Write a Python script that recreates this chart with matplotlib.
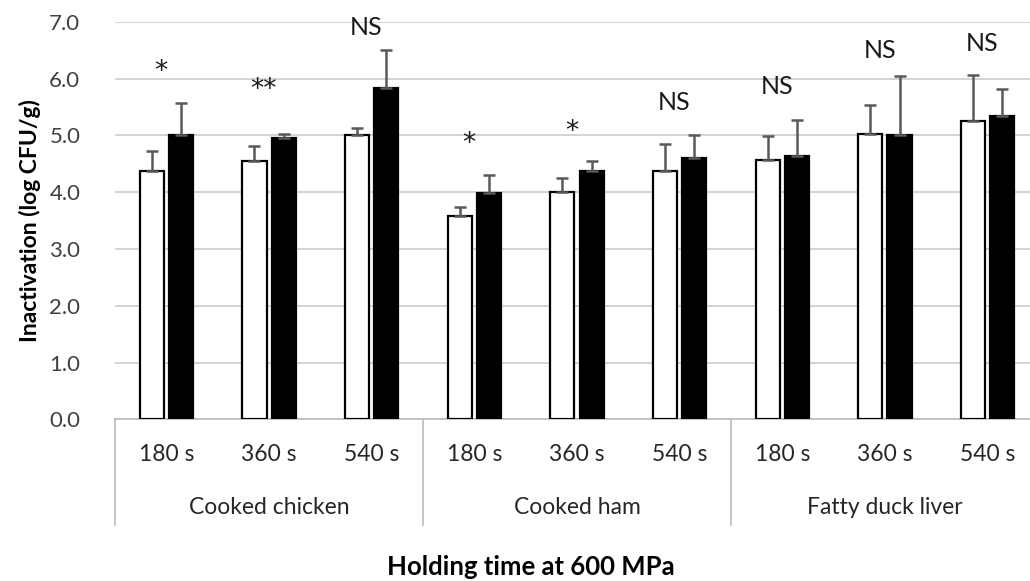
import matplotlib
matplotlib.use("Agg")
import matplotlib.pyplot as plt
import matplotlib.transforms as mtransforms
import numpy as np

plt.rcParams['font.family'] = ['Lato', 'DejaVu Sans']

# data
times = ['180 s', '360 s', '540 s'] * 3
products = ['Cooked chicken', 'Cooked ham', 'Fatty duck liver']
white_vals = [4.38, 4.55, 5.00, 3.58, 4.00, 4.38, 4.57, 5.02, 5.26]
white_err = [0.34, 0.26, 0.13, 0.15, 0.24, 0.47, 0.42, 0.51, 0.81]
black_vals = [5.00, 4.95, 5.83, 3.99, 4.37, 4.60, 4.64, 5.00, 5.34]
black_err = [0.57, 0.08, 0.68, 0.31, 0.17, 0.40, 0.63, 1.04, 0.48]
signif = ['*', '**', 'NS', '*', '*', 'NS', 'NS', 'NS', 'NS']
signif_y = [6.08, 5.75, 6.76, 4.81, 5.01, 5.44, 5.72, 6.37, 6.48]

fig = plt.figure(figsize=(10.3, 5.81), dpi=100)
ax = fig.add_axes([0.1117, 0.2783, 0.897, 0.6843])

x = np.arange(len(times))
w = 0.235
off = 0.142
grey = '#595959'

ax.bar(x - off, white_vals, w, color='white', edgecolor='black', linewidth=1.6, zorder=3)
ax.bar(x + off, black_vals, w, color='black', edgecolor='black', linewidth=1.6, zorder=3)
ax.errorbar(x - off, white_vals, yerr=[np.zeros(9), white_err], fmt='none',
            ecolor=grey, elinewidth=1.8, capsize=4, capthick=1.8, zorder=4)
ax.errorbar(x + off, black_vals, yerr=[np.zeros(9), black_err], fmt='none',
            ecolor=grey, elinewidth=1.8, capsize=4, capthick=1.8, zorder=4)

for i, s in enumerate(signif):
    if s == 'NS':
        ax.text(x[i] - 0.05, signif_y[i], s, ha='center', va='baseline',
                fontsize=18, color='#1a1a1a', zorder=5)
    else:
        # bigger asterisks, closer to the reference glyph
        ax.text(x[i] - 0.05, signif_y[i] - 0.08, s, ha='center', va='baseline',
                fontsize=19, color='#1a1a1a', family='DejaVu Sans', zorder=5)

ax.set_xlim(-0.5, 8.5)
ax.set_ylim(0, 7)
ax.set_yticks(np.arange(0, 7.01, 1.0))
ax.set_yticklabels([f'{v:.1f}' for v in np.arange(0, 7.01, 1.0)])
ax.tick_params(axis='y', length=0, pad=25, labelsize=16, labelcolor='#404040')
ax.set_xticks([])
ax.grid(axis='y', color='#d0d0d0', linewidth=1.3, zorder=0)
for side in ['top', 'right', 'left']:
    ax.spines[side].set_visible(False)
ax.spines['bottom'].set_color('#bfbfbf')
ax.spines['bottom'].set_linewidth(1.3)

# two level category axis
trans = mtransforms.blended_transform_factory(ax.transData, ax.transAxes)
for i, t in enumerate(times):
    ax.text(x[i], -0.089, t, transform=trans, ha='center', va='center',
            fontsize=16.5, color='#262626')
for g, name in enumerate(products):
    ax.text(3 * g + 1, -0.223, name, transform=trans, ha='center', va='center',
            fontsize=16.5, color='#262626')
for xs in [-0.5, 2.5, 5.5, 8.5]:
    ax.plot([xs, xs], [0, -0.266], transform=trans, color='#bfbfbf',
            linewidth=1.3, clip_on=False)

ax.set_ylabel('Inactivation (log CFU/g)', fontsize=16.5, fontweight='bold', labelpad=6)
fig.text(0.5155, 0.024, 'Holding time at 600 MPa', ha='center', va='center',
         fontsize=18.5, fontweight='bold')

fig.savefig('out.png', dpi=100)
